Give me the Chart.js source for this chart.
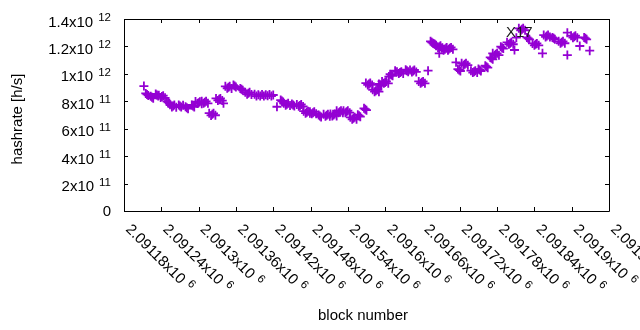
<!DOCTYPE html>
<html>
<head>
<meta charset="utf-8">
<script src="https://cdn.jsdelivr.net/npm/chart.js@4/dist/chart.umd.min.js"></script>
<style>
  body { margin: 0; background: #fff; }
  canvas { display: block; }
</style>
</head>
<body>
<canvas id="hashChart" width="640" height="330"></canvas>
<script>
// block numbers and hashrate (in units of 1e11 h/s)
var blockNumbers = [
  2091212,
  2091215, 2091217, 2091219,
  2091223, 2091225, 2091227,
  2091231, 2091233, 2091235,
  2091236, 2091239, 2091241, 2091243, 2091246,
  2091249, 2091251, 2091253,
  2091254, 2091257, 2091259, 2091261, 2091264,
  2091268, 2091270, 2091272,
  2091275,
  2091279, 2091281, 2091283,
  2091289, 2091291, 2091293,
  2091295, 2091298, 2091300, 2091302, 2091305,
  2091305, 2091308, 2091310, 2091312, 2091315,
  2091317, 2091320, 2091322, 2091324, 2091327,
  2091328, 2091331, 2091333, 2091335, 2091338,
  2091340,
  2091343, 2091346, 2091348, 2091350, 2091353,
  2091356, 2091358, 2091360,
  2091367, 2091369, 2091371,
  2091375, 2091378, 2091380, 2091382, 2091385,
  2091390, 2091393, 2091396, 2091399, 2091402, 2091405, 2091408, 2091411, 2091414, 2091417, 2091420,
  2091426,
  2091432, 2091434, 2091436,
  2091437, 2091440, 2091442, 2091444, 2091447,
  2091450, 2091452, 2091454,
  2091458, 2091461, 2091463, 2091465, 2091468,
  2091469, 2091472, 2091474, 2091476, 2091479,
  2091479, 2091482, 2091484, 2091486, 2091489,
  2091493, 2091495, 2091497,
  2091501, 2091504, 2091506, 2091508, 2091511,
  2091512, 2091515, 2091517, 2091519, 2091522,
  2091522, 2091525, 2091527, 2091529, 2091532,
  2091533, 2091536, 2091538, 2091540, 2091543,
  2091544, 2091547, 2091549, 2091551, 2091554,
  2091556, 2091558, 2091560,
  2091566, 2091568, 2091570,
  2091569, 2091572, 2091574, 2091576, 2091579,
  2091580, 2091583, 2091585, 2091587, 2091590,
  2091590, 2091592, 2091594,
  2091595, 2091598, 2091600, 2091602, 2091605,
  2091606, 2091608, 2091610, 2091612,
  2091616,
  2091619, 2091622, 2091624, 2091626, 2091629,
  2091633, 2091635, 2091637,
  2091640, 2091643, 2091645, 2091647, 2091650,
  2091654, 2091657, 2091659, 2091661, 2091664,
  2091669,
  2091673, 2091675, 2091677,
  2091678, 2091680, 2091682,
  2091682, 2091685, 2091687, 2091689, 2091692,
  2091687,
  2091691, 2091694, 2091696, 2091698, 2091701,
  2091699, 2091702, 2091704, 2091706, 2091709,
  2091714,
  2091717, 2091719, 2091721,
  2091723, 2091726, 2091728, 2091730, 2091733,
  2091738, 2091741, 2091743, 2091745, 2091748,
  2091750, 2091752, 2091754,
  2091761, 2091763, 2091765,
  2091769, 2091771, 2091773,
  2091773, 2091776, 2091778, 2091780, 2091783,
  2091786, 2091788, 2091790,
  2091796, 2091799, 2091801, 2091803, 2091806,
  2091808,
  2091811,
  2091815, 2091818, 2091820, 2091822, 2091825,
  2091828, 2091830, 2091832,
  2091837, 2091840, 2091842, 2091844, 2091847,
  2091853,
  2091855, 2091858, 2091860, 2091862, 2091865,
  2091869, 2091871, 2091873,
  2091879, 2091882, 2091884, 2091886, 2091889,
  2091893,
  2091893,
  2091899, 2091902, 2091904, 2091906, 2091909,
  2091913,
  2091920, 2091922, 2091924,
  2091929
];
var hashrateE11 = [
  9.11,
  8.57, 8.50, 8.43,
  8.36, 8.29, 8.22,
  8.53, 8.46, 8.39,
  8.44, 8.27, 8.34, 8.41, 8.25,
  7.99, 7.92, 7.85,
  7.74, 7.59, 7.66, 7.73, 7.57,
  7.73, 7.66, 7.59,
  7.72,
  7.60, 7.53, 7.46,
  7.73, 7.66, 7.59,
  7.98, 7.83, 7.90, 7.97, 7.82,
  8.00, 7.86, 7.93, 8.00, 7.85,
  7.13, 6.97, 7.05, 7.12, 6.98,
  8.21, 8.06, 8.14, 8.21, 8.05,
  7.85,
  9.09, 8.95, 9.02, 9.09, 8.94,
  9.18, 9.11, 9.04,
  8.94, 8.87, 8.80,
  8.66, 8.51, 8.58, 8.65, 8.50,
  8.51, 8.38, 8.48, 8.39, 8.50, 8.38, 8.48, 8.40, 8.50, 8.38, 8.46,
  7.60,
  8.09, 8.02, 7.95,
  7.85, 7.71, 7.78, 7.85, 7.70,
  7.80, 7.73, 7.66,
  7.77, 7.63, 7.70, 7.77, 7.62,
  7.28, 7.13, 7.20, 7.27, 7.12,
  7.24, 7.10, 7.17, 7.24, 7.09,
  7.00, 6.93, 6.86,
  7.05, 6.91, 6.98, 7.05, 6.91,
  7.07, 6.93, 7.00, 7.07, 6.93,
  7.31, 7.17, 7.24, 7.31, 7.17,
  7.31, 7.17, 7.24, 7.31, 7.17,
  6.83, 6.69, 6.76, 6.83, 6.69,
  7.02, 6.95, 6.88,
  7.49, 7.42, 7.35,
  9.33, 9.19, 9.26, 9.33, 9.19,
  8.84, 8.70, 8.77, 8.84, 8.70,
  9.26, 9.19, 9.12,
  9.45, 9.31, 9.38, 9.45, 9.31,
  9.80, 9.97, 9.92, 9.86,
  10.23,
  10.16, 10.02, 10.09, 10.16, 10.02,
  10.30, 10.23, 10.16,
  10.28, 10.14, 10.21, 10.28, 10.14,
  9.45, 9.31, 9.38, 9.45, 9.31,
  10.23,
  12.37, 12.30, 12.23,
  12.22, 12.15, 12.08,
  12.05, 11.91, 11.98, 12.05, 11.91,
  11.50,
  11.86, 11.72, 11.79, 11.86, 11.72,
  11.93, 11.79, 11.86, 11.93, 11.79,
  10.84,
  10.35, 10.28, 10.21,
  10.77, 10.63, 10.70, 10.77, 10.63,
  10.23, 10.09, 10.16, 10.23, 10.09,
  10.35, 10.28, 10.21,
  10.59, 10.52, 10.45,
  11.20, 11.13, 11.06,
  11.50, 11.36, 11.43, 11.50, 11.36,
  11.98, 11.91, 11.84,
  12.30, 12.16, 12.23, 12.30, 12.16,
  11.74,
  12.64,
  13.32, 13.18, 13.25, 13.32, 13.18,
  12.66, 12.59, 12.52,
  12.22, 12.08, 12.15, 12.22, 12.08,
  11.50,
  12.83, 12.69, 12.76, 12.83, 12.69,
  12.66, 12.59, 12.52,
  12.37, 12.23, 12.30, 12.37, 12.23,
  13.00,
  11.37,
  12.78, 12.64, 12.71, 12.78, 12.64,
  12.03,
  12.66, 12.59, 12.52,
  11.69
];

var xTicks = [2091180, 2091240, 2091300, 2091360, 2091420, 2091480, 2091540,
              2091600, 2091660, 2091720, 2091780, 2091840, 2091900, 2091960];
var xTickLabels = ['2.09118x10', '2.09124x10', '2.0913x10', '2.09136x10', '2.09142x10',
                   '2.09148x10', '2.09154x10', '2.0916x10', '2.09166x10', '2.09172x10',
                   '2.09178x10', '2.09184x10', '2.0919x10', '2.09196x10'];
var xTickExp = '6';

var yTicks = [0, 2e11, 4e11, 6e11, 8e11, 1e12, 1.2e12, 1.4e12];
var yTickLabels = ['0', '2x10', '4x10', '6x10', '8x10', '1x10', '1.2x10', '1.4x10'];
var yTickExps = ['', '11', '11', '11', '11', '12', '12', '12'];

var points = blockNumbers.map(function (b, i) {
  return { x: b, y: hashrateE11[i] * 1e11 };
});

var FONT = '15px "Liberation Sans", Arial, sans-serif';
var SUP_FONT = '11.5px "Liberation Sans", Arial, sans-serif';

// text with a raised exponent, drawn from (x, y) on the baseline
function drawSup(ctx, base, exp, x, y, align) {
  ctx.font = FONT;
  var w1 = ctx.measureText(base).width;
  var gap = exp ? 5 : 0;
  ctx.font = SUP_FONT;
  var w2 = exp ? ctx.measureText(exp).width : 0;
  var start = align === 'right' ? x - (w1 + gap + w2) : x;
  ctx.textAlign = 'left';
  ctx.textBaseline = 'alphabetic';
  ctx.font = FONT;
  ctx.fillText(base, start, y);
  if (exp) {
    ctx.font = SUP_FONT;
    ctx.fillText(exp, start + w1 + gap, y - 5.5);
  }
}

var gnuplotAxes = {
  id: 'gnuplotAxes',
  afterDraw: function (chart) {
    var ctx = chart.ctx;
    var a = chart.chartArea;
    var xs = chart.scales.x, ys = chart.scales.y;
    ctx.save();
    ctx.strokeStyle = '#000';
    ctx.lineWidth = 1;
    ctx.beginPath();
    ctx.rect(Math.round(a.left) + 0.5, Math.round(a.top) + 0.5,
             Math.round(a.right - a.left), Math.round(a.bottom - a.top));
    // ticks, mirrored on both sides
    yTicks.forEach(function (v) {
      var y = Math.round(ys.getPixelForValue(v)) + 0.5;
      ctx.moveTo(a.left, y); ctx.lineTo(a.left + 4, y);
      ctx.moveTo(a.right, y); ctx.lineTo(a.right - 4, y);
    });
    xTicks.forEach(function (v) {
      var x = Math.round(xs.getPixelForValue(v)) + 0.5;
      ctx.moveTo(x, a.bottom); ctx.lineTo(x, a.bottom - 4);
      ctx.moveTo(x, a.top); ctx.lineTo(x, a.top + 4);
    });
    ctx.stroke();

    ctx.fillStyle = '#000';
    yTicks.forEach(function (v, i) {
      var y = ys.getPixelForValue(v);
      var off = yTickExps[i] ? 7.5 : 4.5;
      drawSup(ctx, yTickLabels[i], yTickExps[i], 111, y + off, 'right');
    });
    xTicks.forEach(function (v, i) {
      var x = xs.getPixelForValue(v);
      ctx.save();
      ctx.translate(x + 1, 230);
      ctx.rotate(Math.PI / 4);
      drawSup(ctx, xTickLabels[i], xTickExp, 0, 0, 'left');
      ctx.restore();
    });

    // axis titles
    ctx.font = FONT;
    ctx.textAlign = 'center';
    ctx.textBaseline = 'alphabetic';
    ctx.fillText('block number', 363, 320);
    ctx.save();
    ctx.translate(22, 119);
    ctx.rotate(-Math.PI / 2);
    ctx.fillText('hashrate [h/s]', 0, 0);
    ctx.restore();

    // label on the plot
    ctx.fillStyle = '#1a1a1a';
    ctx.textAlign = 'left';
    ctx.fillText('X17', 506, 37);
    ctx.restore();
  }
};

var ctx = document.getElementById('hashChart').getContext('2d');
var chart = new Chart(ctx, {
  type: 'scatter',
  data: {
    datasets: [{
      label: 'hashrate',
      data: points,
      pointStyle: 'cross',
      pointRadius: 4.5,
      pointHoverRadius: 4.5,
      borderWidth: 1.8,
      borderColor: '#9400d3',
      backgroundColor: '#9400d3',
      showLine: false
    }]
  },
  options: {
    responsive: false,
    animation: false,
    events: [],
    layout: { padding: { left: 124, right: 31, top: 19, bottom: 119 } },
    plugins: { legend: { display: false }, tooltip: { enabled: false } },
    scales: {
      x: { type: 'linear', min: 2091180, max: 2091960, display: false },
      y: { type: 'linear', min: 0, max: 1.4e12, display: false }
    }
  },
  plugins: [gnuplotAxes]
});
</script>
</body>
</html>
